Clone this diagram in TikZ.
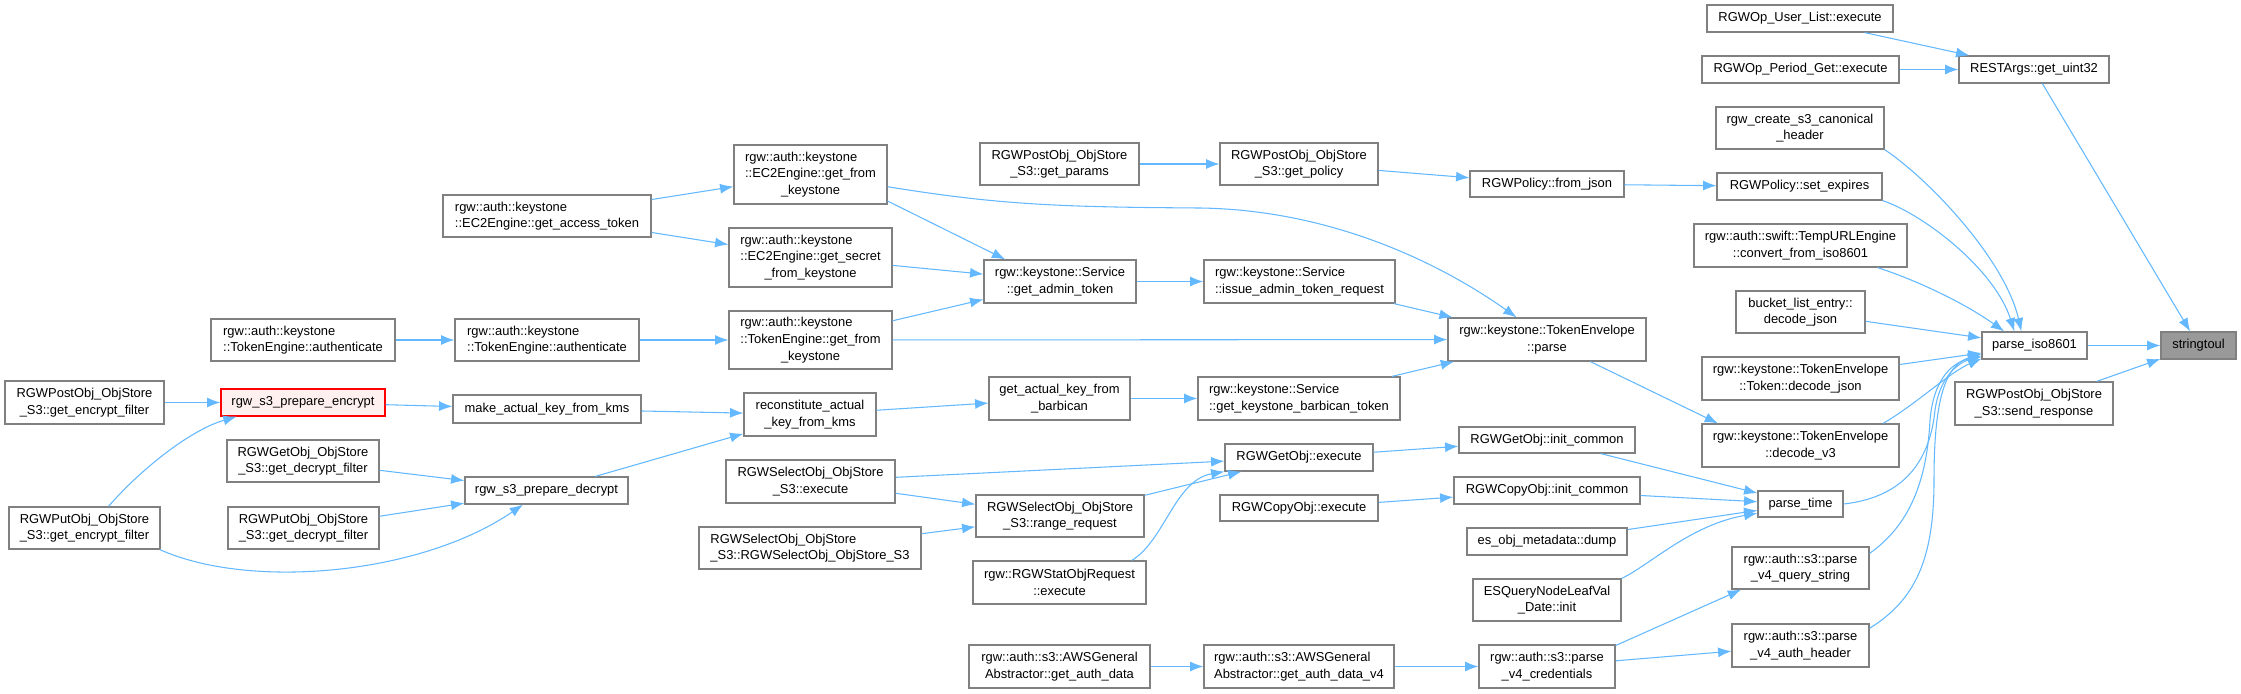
\documentclass[tikz,border=0pt]{standalone}
\usepackage{fontspec}
\setmainfont{Liberation Sans}
\usetikzlibrary{arrows.meta}
\definecolor{edgeblue}{HTML}{63B8FF}
\definecolor{boxline}{HTML}{808080}
\definecolor{rootfill}{HTML}{999999}
\definecolor{hlfill}{HTML}{FFF0F0}
\newcommand{\lpad}[2]{\rlap{#1}\phantom{#2}}

\begin{document}
\begin{tikzpicture}[
        x=0.75pt, y=-0.75pt,
        >={Latex[length=10pt, width=7.5pt]},
        dims/.style 2 args={minimum width=#1*0.75pt, minimum height=#2*0.75pt},
        fn/.style={draw=boxline, line width=0.9pt, fill=white, inner sep=0pt, align=center,
            font=\fontsize{9.7}{12.5}\selectfont},
        fnleft/.style={fn, align=left},
        fnroot/.style={fn, fill=rootfill},
        fnred/.style={fn, draw=red, fill=hlfill},
        call/.style={->, draw=edgeblue, line width=0.8pt}
    ]
        \useasboundingbox (0,0) rectangle (2241,693);

        % right part: callers of stringtoul
        \node[fnroot, dims={75}{27}] (stol) at (2198.5,345.5) {stringtoul};
        \node[fn, dims={105}{27}] (iso) at (2034.5,345.5) {parse\_iso8601};
        \node[fn, dims={150}{27}] (uint) at (2034,69.5) {RESTArgs::get\_uint32};
        \node[fn, dims={158}{43}] (send) at (2034,403.5) {RGWPostObj\_ObjStore\\\_S3::send\_response};
        \node[fn, dims={186}{27}] (ulist) at (1800,18.5) {RGWOp\_User\_List::execute};
        \node[fn, dims={197}{27}] (pget) at (1800.5,69.5) {RGWOp\_Period\_Get::execute};
        \node[fn, dims={168}{42}] (hdr) at (1800,128) {rgw\_create\_s3\_canonical\\\_header};
        \node[fn, dims={165}{27}] (sexp) at (1799.5,186.5) {RGWPolicy::set\_expires};
        \node[fn, dims={213}{43}] (conv) at (1800.5,245.5) {rgw::auth::swift::TempURLEngine\\::convert\_from\_iso8601};
        \node[fn, dims={129}{42}] (ble) at (1800.5,312) {bucket\_list\_entry::\\decode\_json};
        \node[fn, dims={197}{43}] (tdj) at (1800.5,378.5) {rgw::keystone::TokenEnvelope\\::Token::decode\_json};
        \node[fn, dims={197}{43}] (dv3) at (1800.5,445.5) {rgw::keystone::TokenEnvelope\\::decode\_v3};
        \node[fn, dims={85}{26}] (ptime) at (1800.5,504) {parse\_time};
        \node[fn, dims={137}{42}] (pvq) at (1800.5,568) {rgw::auth::s3::parse\\\_v4\_query\_string};
        \node[fn, dims={137}{43}] (pva) at (1800.5,645.5) {rgw::auth::s3::parse\\\_v4\_auth\_header};

        % column left of parse_time
        \node[fn, dims={154}{26}] (fjson) at (1547,184) {RGWPolicy::from\_json};
        \node[fn, dims={198}{43}] (tep) at (1547,339.5) {rgw::keystone::TokenEnvelope\\::parse};
        \node[fn, dims={176}{26}] (gic) at (1547,440) {RGWGetObj::init\_common};
        \node[fn, dims={186}{27}] (cic) at (1547,490.5) {RGWCopyObj::init\_common};
        \node[fn, dims={160}{27}] (esd) at (1547,541.5) {es\_obj\_metadata::dump};
        \node[fn, dims={148}{42}] (esq) at (1547,600) {ESQueryNodeLeafVal\\\_Date::init};
        \node[fn, dims={136}{43}] (pvc) at (1547,666.5) {rgw::auth::s3::parse\\\_v4\_credentials};

        \node[fn, dims={158}{42}] (gpol) at (1299,164) {RGWPostObj\_ObjStore\\\_S3::get\_policy};
        \node[fnleft, dims={191}{43}] (iatr) at (1299.5,281.5) {rgw::keystone::Service\\::issue\_admin\_token\_request};
        \node[fnleft, dims={202}{43}] (gkbt) at (1299,398.5) {rgw::keystone::Service\\::get\_keystone\_barbican\_token};
        \node[fn, dims={148}{27}] (gex) at (1299,457.5) {RGWGetObj::execute};
        \node[fn, dims={158}{26}] (cex) at (1299,508) {RGWCopyObj::execute};
        \node[fnleft, dims={190}{43}] (gadv4) at (1299,666.5) {rgw::auth::s3::AWSGeneral\\Abstractor::get\_auth\_data\_v4};

        \node[fn, dims={159}{42}] (gpar) at (1059.5,164) {RGWPostObj\_ObjStore\\\_S3::get\_params};
        \node[fn, dims={152}{43}] (gat) at (1060,281.5) {rgw::keystone::Service\\::get\_admin\_token};
        \node[fn, dims={141}{43}] (gakb) at (1059.5,398.5) {get\_actual\_key\_from\\\_barbican};
        \node[fn, dims={168}{42}] (rr) at (1060,516) {RGWSelectObj\_ObjStore\\\_S3::range\_request};
        \node[fn, dims={173}{43}] (stat) at (1059.5,582.5) {rgw::RGWStatObjRequest\\::execute};
        \node[fn, dims={181}{43}] (gad) at (1059.5,666.5) {rgw::auth::s3::AWSGeneral\\Abstractor::get\_auth\_data};

        % keystone and crypto callers
        \node[fn, dims={153}{59}] (ec2f) at (810.5,174.5) {\lpad{rgw::auth::keystone}{::EC2Engine::get\_from}\\::EC2Engine::get\_from\\\_keystone};
        \node[fn, dims={163}{59}] (ec2s) at (810.5,257.5) {\lpad{rgw::auth::keystone}{::EC2Engine::get\_secret}\\::EC2Engine::get\_secret\\\_from\_keystone};
        \node[fn, dims={163}{58}] (tegf) at (810.5,340) {\lpad{rgw::auth::keystone}{::TokenEngine::get\_from}\\::TokenEngine::get\_from\\\_keystone};
        \node[fn, dims={132}{43}] (recon) at (810,414.5) {reconstitute\_actual\\\_key\_from\_kms};
        \node[fn, dims={169}{43}] (sex) at (810.5,481.5) {RGWSelectObj\_ObjStore\\\_S3::execute};
        \node[fnleft, dims={222}{42}] (sctor) at (810,548) {RGWSelectObj\_ObjStore\\\_S3::RGWSelectObj\_ObjStore\_S3};

        \node[fnleft, dims={208}{42}] (ec2a) at (547,216) {rgw::auth::keystone\\::EC2Engine::get\_access\_token};
        \node[fnleft, dims={184}{42}] (tea2) at (547,340) {rgw::auth::keystone\\::TokenEngine::authenticate};
        \node[fn, dims={188}{28}] (mak) at (547,409) {make\_actual\_key\_from\_kms};
        \node[fn, dims={163}{27}] (dec) at (546.5,490.5) {rgw\_s3\_prepare\_decrypt};

        \node[fnleft, dims={184}{42}] (tea1) at (303,340) {rgw::auth::keystone\\::TokenEngine::authenticate};
        \node[fnred, dims={164}{27}] (enc) at (303,402.5) {rgw\_s3\_prepare\_encrypt};
        \node[fn, dims={152}{42}] (ged) at (303,461) {RGWGetObj\_ObjStore\\\_S3::get\_decrypt\_filter};
        \node[fn, dims={151}{42}] (ped) at (303.5,528) {RGWPutObj\_ObjStore\\\_S3::get\_decrypt\_filter};

        \node[fn, dims={159}{43}] (poe) at (84.5,402.5) {RGWPostObj\_ObjStore\\\_S3::get\_encrypt\_filter};
        \node[fn, dims={151}{42}] (pue) at (84.5,528) {RGWPutObj\_ObjStore\\\_S3::get\_encrypt\_filter};

        % calls into stringtoul and parse_iso8601
        \draw[call] (ulist) -- (uint);
        \draw[call] (pget) -- (uint);
        \draw[call] (uint) -- (stol);
        \draw[call] (iso) -- (stol);
        \draw[call] (send) -- (stol);
        \draw[call] (hdr.south east) .. controls (1930,180) and (2005,260) .. (iso.133);
        \draw[call] (sexp.south east) .. controls (1925,215) and (1995,270) .. (iso.145);
        \draw[call] (conv.-16) .. controls (1910,278) and (1960,300) .. (iso.155);
        \draw[call] (ble) -- (iso);
        \draw[call] (tdj) -- (iso);
        \draw[call] (dv3.15) .. controls (1915,405) and (1950,372) .. (iso.194);
        \draw[call] (ptime.east) .. controls (1905,497) and (1930,460) .. (1935,410)
            .. controls (1940,375) and (1960,362) .. (iso.192);
        \draw[call] (pvq.12) .. controls (1910,525) and (1927,480) .. (1930,420)
            .. controls (1934,375) and (1955,362) .. (iso.191);
        \draw[call] (pva.14) .. controls (1915,600) and (1934,560) .. (1934,480)
            .. controls (1934,400) and (1945,365) .. (iso.189);

        % policy chain
        \draw[call] (fjson) -- (sexp);
        \draw[call] (gpol) -- (fjson);
        \draw[call] (gpar) -- (gpol);

        % keystone chain
        \draw[call] (tep.-27) -- (dv3.165);
        \draw[call] (ec2f.-9) .. controls (1000,205) and (1060,207) .. (1200,208)
            .. controls (1340,210) and (1450,270) .. (tep.144);
        \draw[call] (ec2f.-19) -- (gat.158);
        \draw[call] (ec2a) -- (ec2f);
        \draw[call] (ec2a) -- (ec2s);
        \draw[call] (ec2s) -- (gat);
        \draw[call] (tegf) -- (gat);
        \draw[call] (tegf) -- (tep);
        \draw[call] (gat) -- (iatr);
        \draw[call] (iatr) -- (tep);
        \draw[call] (gkbt) -- (tep);
        \draw[call] (gakb) -- (gkbt);
        \draw[call] (recon) -- (gakb);
        \draw[call] (tea1) -- (tea2);
        \draw[call] (tea2) -- (tegf);

        % encryption chain
        \draw[call] (mak) -- (recon);
        \draw[call] (dec) -- (recon);
        \draw[call] (enc) -- (mak);
        \draw[call] (poe) -- (enc);
        \draw[call] (pue.42) .. controls (140,470) and (190,430) .. (enc.-168);
        \draw[call] (pue.-16) .. controls (250,590) and (420,575) .. (dec.-149);
        \draw[call] (ged) -- (dec);
        \draw[call] (ped) -- (dec);

        % object requests and parse_time
        \draw[call] (sex) -- (gex);
        \draw[call] (sex) -- (rr);
        \draw[call] (sctor) -- (rr);
        \draw[call] (rr) -- (gex);
        \draw[call] (stat.17) .. controls (1165,540) and (1175,480) .. (gex.south west);
        \draw[call] (gex) -- (gic);
        \draw[call] (cex) -- (cic);
        \draw[call] (gic) -- (ptime);
        \draw[call] (cic) -- (ptime);
        \draw[call] (esd) -- (ptime);
        \draw[call] (esq.north east) .. controls (1650,565) and (1690,525) .. (ptime.192);

        % aws v4 auth
        \draw[call] (gad) -- (gadv4);
        \draw[call] (gadv4) -- (pvc);
        \draw[call] (pvc.17) -- (pvq.-160);
        \draw[call] (pvc) -- (pva);
    \end{tikzpicture}
\end{document}
